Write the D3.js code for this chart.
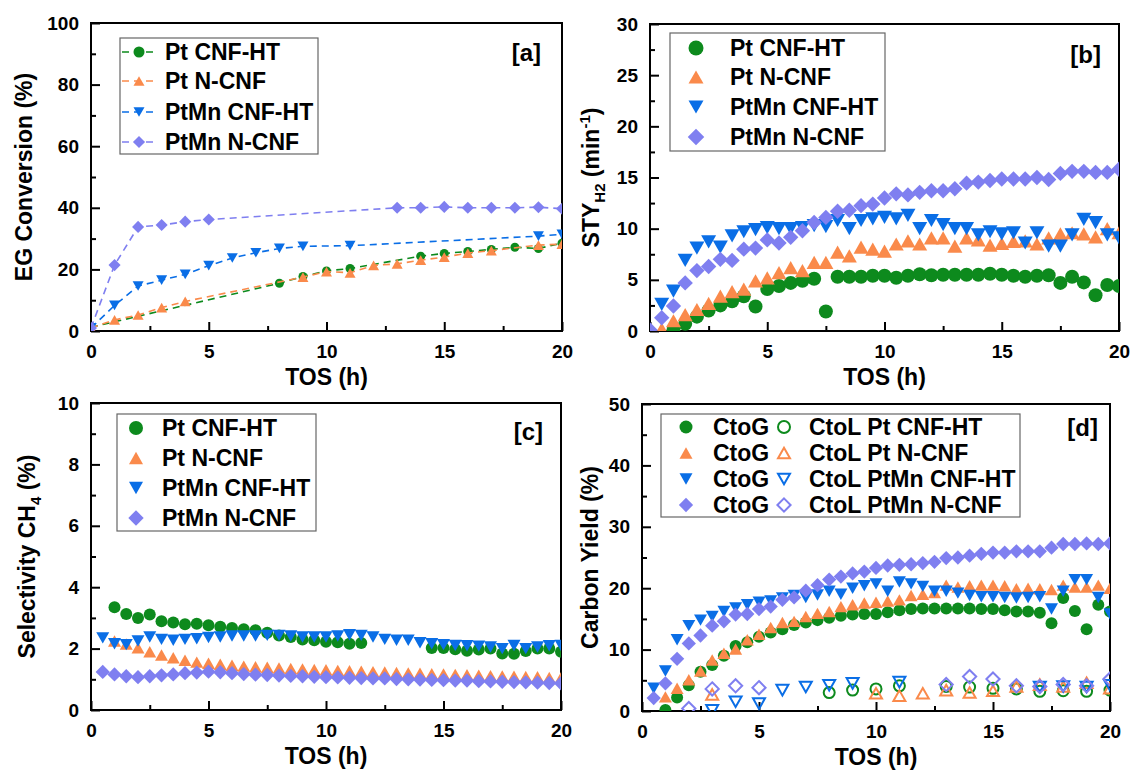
<!DOCTYPE html>
<html>
<head>
<meta charset="utf-8">
<script src="https://cdn.jsdelivr.net/npm/d3@7"></script>
<style>
  body { margin: 0; background: #fff; }
  text { font-family: "Liberation Sans", Arial, sans-serif; font-weight: bold; fill: #000; }
</style>
</head>
<body>
<svg id="fig" width="1132" height="771"></svg>
<script>
// ---- data ----
const seriesNames = ["Pt CNF-HT", "Pt N-CNF", "PtMn CNF-HT", "PtMn N-CNF"];
const xTicks = [0, 5, 10, 15, 20];

// [a] EG conversion (%), hourly points, dashed lines
const aGreenT = [0, 8, 9, 10, 11, 14, 15, 16, 17, 18, 19, 20];
const aGreenV = [1.2, 15.5, 17.7, 19.5, 20.3, 24.3, 25.2, 25.8, 26.5, 27.2, 26.8, 28.5];
const aOrangeT = [0, 1, 2, 3, 4, 9, 10, 11, 12, 13, 14, 15, 16, 17, 19, 20];
const aOrangeV = [1, 3.6, 5.2, 7.6, 9.6, 17.5, 19.3, 18.9, 21.3, 21.8, 23.0, 24.0, 25.3, 26.1, 27.9, 28.2];
const aBlueT = [0, 1, 2, 3, 4, 5, 6, 7, 8, 9, 11, 19, 20];
const aBlueV = [1, 8.3, 14.6, 16.5, 18.4, 21.2, 23.7, 25.4, 26.8, 27.5, 27.7, 30.8, 31.4];
const aPurpleT = [0, 1, 2, 3, 4, 5, 13, 14, 15, 16, 17, 18, 19, 20];
const aPurpleV = [1, 21.4, 33.8, 34.4, 35.5, 36.2, 40.0, 40.0, 40.3, 40.0, 40.0, 40.0, 40.2, 39.7];

// half-hour sampling used in [b], [c], [d]
const tosHalf = [0, 0.5, 1, 1.5, 2, 2.5, 3, 3.5, 4, 4.5, 5, 5.5, 6, 6.5, 7, 7.5, 8, 8.5, 9, 9.5, 10,
  10.5, 11, 11.5, 12, 12.5, 13, 13.5, 14, 14.5, 15, 15.5, 16, 16.5, 17, 17.5, 18, 18.5, 19, 19.5, 20];

// [b] STY H2 (min-1)
const bGreen = [null, null, 0.1, 0.7, 1.4, 2.0, 2.5, 2.9, 3.4, 2.4, 4.1, 4.4, 4.7, 4.9, 5.1, 1.9, 5.3, 5.3, 5.3, 5.4, 5.4,
  5.2, 5.4, 5.55, 5.45, 5.5, 5.5, 5.5, 5.5, 5.6, 5.5, 5.4, 5.3, 5.4, 5.45, 4.7, 5.3, 4.75, 3.5, 4.5, 4.4];
const bOrange = [null, 0.2, 1.0, 1.6, 2.1, 2.7, 3.4, 3.85, 4.1, 4.9, 5.2, 5.7, 6.2, 5.9, 6.7, 6.7, 7.7, 7.35, 8.2, 8.0, 7.8,
  8.5, 8.8, 8.5, 9.1, 9.1, 8.3, 9.1, 8.9, 8.4, 8.55, 8.75, 8.8, 8.5, 9.1, 9.5, 9.6, 9.5, 9.2, 10.0, 9.6];
const bBlue = [null, 2.6, 3.9, 6.9, 8.1, 8.7, 8.2, 9.3, 9.7, 9.9, 10.1, 10.0, 10.0, 10.1, 10.3, 10.2, 10.8, 10.0, 10.8, 10.95, 11.1,
  10.95, 11.3, 10.0, 10.8, 10.4, 10.0, 10.0, 9.4, 9.7, 9.5, 9.6, 8.6, 9.6, 8.3, 8.3, 9.4, 10.9, 10.6, 9.4, 9.1];
const bPurple = [0.1, 1.3, 2.45, 4.7, 5.9, 6.3, 7.0, 6.9, 8.0, 8.1, 8.9, 8.6, 9.15, 9.8, 10.6, 11.1, 11.7, 11.8, 12.25, 12.4, 13.0,
  13.4, 13.3, 13.55, 13.7, 13.7, 13.9, 14.45, 14.55, 14.7, 14.85, 14.85, 14.85, 15.0, 14.8, 15.4, 15.6, 15.6, 15.5, 15.5, 15.8];

// [c] CH4 selectivity (%)
const cGreen = [null, null, 3.35, 3.13, 3.0, 3.11, 2.89, 2.85, 2.79, 2.81, 2.76, 2.71, 2.67, 2.63, 2.6, 2.52, 2.43, 2.38, 2.3, 2.27, 2.22,
  2.21, 2.16, 2.18, null, null, null, null, null, 2.02, 2.02, 1.98, 1.93, 1.97, 2.0, 1.84, 1.83, 1.92, 2.0, 2.0, 1.9];
const cOrange = [null, null, 2.25, 2.15, 2.03, 1.9, 1.79, 1.7, 1.62, 1.56, 1.52, 1.49, 1.46, 1.43, 1.41, 1.39, 1.37, 1.35, 1.34, 1.32, 1.31,
  1.29, 1.28, 1.26, 1.25, 1.24, 1.22, 1.21, 1.2, 1.18, 1.17, 1.16, 1.15, 1.13, 1.12, 1.11, 1.1, 1.09, 1.08, 1.06, 1.05];
const cBlue = [null, 2.35, 2.16, 2.13, 2.25, 2.38, 2.3, 2.27, 2.3, 2.32, 2.36, 2.38, 2.41, 2.41, 2.41, 2.43, 2.43, 2.41, 2.38, 2.38, 2.38,
  2.41, 2.45, 2.43, 2.38, 2.3, 2.27, 2.27, 2.19, 2.16, 2.13, 2.1, 2.09, 2.08, 2.05, 2.0, 2.1, 2.0, 2.05, 2.09, 2.1];
const cPurple = [null, 1.24, 1.16, 1.1, 1.07, 1.1, 1.13, 1.16, 1.2, 1.22, 1.25, 1.23, 1.2, 1.17, 1.15, 1.14, 1.12, 1.11, 1.1, 1.08, 1.07,
  1.06, 1.05, 1.04, 1.03, 1.03, 1.01, 1.0, 0.99, 0.98, 0.97, 0.96, 0.96, 0.94, 0.93, 0.92, 0.91, 0.9, 0.89, 0.88, 0.87];

// [d] carbon yield (%): CtoG (filled, half-hourly) and CtoL (open, hourly)
const dGreenG = [null, null, 0.15, 2.2, 4.2, 6.4, 7.5, 9.0, 10.6, 11.2, 12.1, 12.8, 13.3, 14.0, 14.4, 14.8, 15.2, 15.5, 15.7, 15.8, 15.8,
  16.1, 16.4, 16.6, 16.7, 16.7, 16.7, 16.7, 16.7, 16.6, 16.6, 16.4, 16.2, 16.2, 16.0, 14.3, 18.4, 16.3, 13.3, 17.3, 16.2];
const dOrangeG = [null, null, 2.3, 3.7, 5.1, 6.5, 8.3, 9.4, 10.1, 11.6, 12.5, 13.6, 14.4, 14.6, 15.4, 15.9, 16.2, 17.0, 17.3, 17.6, 17.7,
  17.9, 18.1, 18.8, 19.0, 19.3, 20.5, 20.2, 20.4, 20.5, 20.5, 20.4, 19.9, 20.0, 19.9, 19.8, 20.5, 20.2, 20.2, 20.5, 20.0];
const dBlueG = [null, 3.7, 6.5, 11.6, 13.9, 14.8, 15.4, 16.2, 16.8, 17.3, 17.7, 17.9, 18.4, 18.8, 18.5, 18.9, 19.5, 19.0, 20.0, 20.4, 20.7,
  19.5, 21.0, 20.7, 20.3, 19.5, 19.5, 19.2, 18.8, 18.6, 18.6, 18.5, 18.4, 18.5, 18.6, 16.6, 19.5, 21.4, 21.4, 18.5, 15.8];
const dPurpleG = [null, 2.1, 4.5, 8.5, 11.0, 12.3, 13.9, 14.6, 15.7, 15.8, 16.6, 17.0, 18.1, 18.5, 19.6, 20.5, 21.4, 21.9, 22.4, 22.7, 23.3,
  23.7, 23.8, 23.9, 24.1, 24.3, 24.9, 25.0, 25.3, 25.6, 25.8, 25.8, 26.0, 26.0, 26.0, 26.6, 27.2, 27.2, 27.3, 27.2, 27.3];
const dGreenLT = [8, 9, 10, 11, 13, 14, 15, 16, 17, 18, 19, 20];
const dGreenLV = [3.0, 3.4, 3.6, 4.1, 4.0, 3.9, 3.7, 3.6, 3.2, 3.3, 3.2, 3.4];
const dOrangeLT = [3, 10, 11, 12, 13, 14, 15, 16, 17, 18, 19, 20];
const dOrangeLV = [2.7, 2.9, 2.5, 2.9, 3.4, 3.0, 3.3, 4.0, 4.3, 4.0, 4.6, 3.7];
const dBlueLT = [3, 4, 5, 6, 7, 8, 9, 11, 17, 18, 19, 20];
const dBlueLV = [0.1, 1.5, 1.2, 3.4, 3.9, 4.2, 4.5, 4.7, 3.9, 4.0, 3.9, 4.2];
const dPurpleLT = [2, 3, 4, 5, 13, 14, 15, 16, 17, 18, 19, 20];
const dPurpleLV = [0.4, 3.6, 4.1, 3.8, 4.3, 5.6, 5.2, 4.1, 4.0, 4.3, 4.1, 5.2];

// ---- styling ----
const colors = ["#0d8a1d", "#fa8a4b", "#0a6ee6", "#7f7ff0"];
const shapes = ["circle", "up", "down", "diamond"];
const FONT = '"Liberation Sans", Arial, sans-serif';

function markerPath(type, s) {
  const h = s / 2;
  if (type === "circle") return `M${h},0A${h},${h} 0 1,1 ${-h},0A${h},${h} 0 1,1 ${h},0Z`;
  const t = s * 0.44;
  if (type === "up") return `M0,${-t}L${h},${t}L${-h},${t}Z`;
  if (type === "down") return `M0,${t}L${h},${-t}L${-h},${-t}Z`;
  const d = s * 0.55;
  return `M0,${-d}L${d},0L0,${d}L${-d},0Z`;
}

function zip(xs, ys) {
  return xs.map((t, i) => ({ t: t, v: ys[i] })).filter(d => d.v !== null);
}

const svg = d3.select("#fig");

function drawPanel(p) {
  const g = svg.append("g");
  const x = d3.scaleLinear().domain([0, 20]).range([p.left, p.right]);
  const y = d3.scaleLinear().domain([0, p.yMax]).range([p.bottom, p.top]);

  const clipId = "clip-" + p.tag;
  svg.append("clipPath").attr("id", clipId)
    .append("rect").attr("x", p.left).attr("y", p.top)
    .attr("width", p.right - p.left).attr("height", p.bottom - p.top);

  // minor ticks (inward)
  const yMinor = d3.range(p.yStep / 2, p.yMax, p.yStep);
  g.append("g").attr("transform", `translate(0,${p.bottom})`)
    .call(d3.axisBottom(x).tickValues([2.5, 7.5, 12.5, 17.5]).tickSize(-5).tickFormat(""));
  g.append("g").attr("transform", `translate(${p.left},0)`)
    .call(d3.axisLeft(y).tickValues(yMinor).tickSize(-5).tickFormat(""));
  // major ticks
  const xAx = g.append("g").attr("transform", `translate(0,${p.bottom})`)
    .call(d3.axisBottom(x).tickValues(xTicks).tickSize(-9).tickPadding(14).tickFormat(d3.format("d")));
  const yAx = g.append("g").attr("transform", `translate(${p.left},0)`)
    .call(d3.axisLeft(y).tickValues(d3.range(0, p.yMax + 0.001, p.yStep)).tickSize(-9).tickPadding(12).tickFormat(d3.format("d")));
  g.selectAll(".domain").remove();
  g.selectAll(".tick line").attr("stroke", "#000").attr("stroke-width", 2);
  [xAx, yAx].forEach(a => a.selectAll("text")
    .style("font-family", FONT).style("font-weight", "bold").style("font-size", "19px").attr("fill", "#000"));

  // frame
  g.append("rect").attr("x", p.left).attr("y", p.top)
    .attr("width", p.right - p.left).attr("height", p.bottom - p.top)
    .attr("fill", "none").attr("stroke", "#000").attr("stroke-width", 2);

  // axis titles
  g.append("text").attr("x", (p.left + p.right) / 2).attr("y", p.bottom + 54)
    .attr("text-anchor", "middle").style("font-size", "23px").text("TOS (h)");
  const yt = g.append("text").attr("transform", `translate(${p.yTitleX},${(p.top + p.bottom) / 2}) rotate(-90)`)
    .attr("text-anchor", "middle").attr("dy", "0.35em").style("font-size", "23px");
  p.yTitle(yt);

  // panel tag
  g.append("text").attr("x", p.tagX).attr("y", p.tagY).attr("dy", "0.35em")
    .attr("text-anchor", "end").style("font-size", "24px").text(`[${p.tag}]`);

  const plot = g.append("g").attr("clip-path", `url(#${clipId})`);

  p.series.forEach(s => {
    const pts = zip(s.t, s.v);
    if (s.dashed) {
      plot.append("path").datum(pts)
        .attr("d", d3.line().x(d => x(d.t)).y(d => y(d.v)))
        .attr("fill", "none").attr("stroke", colors[s.k]).attr("stroke-width", 1.6)
        .attr("stroke-dasharray", "7,5");
    }
    plot.selectAll(null).data(pts).join("path")
      .attr("transform", d => `translate(${x(d.t)},${y(d.v)})`)
      .attr("d", markerPath(shapes[s.k], s.open ? s.size - 1 : s.size))
      .attr("fill", s.open ? "none" : colors[s.k])
      .attr("stroke", s.open ? colors[s.k] : "none")
      .attr("stroke-width", s.open ? 2 : 0);
  });

  // legend
  const L = p.legend;
  const lg = g.append("g");
  lg.append("rect").attr("x", L.x0).attr("y", L.y0).attr("width", L.x1 - L.x0).attr("height", L.y1 - L.y0)
    .attr("fill", "#fff").attr("stroke", "#666").attr("stroke-width", 1.2);
  L.rows.forEach((ry, i) => {
    if (L.dashed) {
      lg.append("line").attr("x1", L.mx - 17).attr("x2", L.mx + 18).attr("y1", ry).attr("y2", ry)
        .attr("stroke", colors[i]).attr("stroke-width", 1.6).attr("stroke-dasharray", "7,5");
    }
    lg.append("path").attr("transform", `translate(${L.mx},${ry})`)
      .attr("d", markerPath(shapes[i], L.size)).attr("fill", colors[i]);
    if (L.openX) {
      lg.append("text").attr("x", L.tx).attr("y", ry).attr("dy", "0.35em").style("font-size", "23px").text("CtoG");
      lg.append("path").attr("transform", `translate(${L.openX},${ry})`)
        .attr("d", markerPath(shapes[i], L.size - 1)).attr("fill", "none")
        .attr("stroke", colors[i]).attr("stroke-width", 2);
      lg.append("text").attr("x", L.tx2).attr("y", ry).attr("dy", "0.35em").style("font-size", "23px")
        .text("CtoL " + seriesNames[i]);
    } else {
      lg.append("text").attr("x", L.tx).attr("y", ry).attr("dy", "0.35em").style("font-size", "23px")
        .text(seriesNames[i]);
    }
  });
}

function simpleTitle(str) { return t => t.text(str); }

drawPanel({
  tag: "a", left: 91, right: 562, top: 23, bottom: 331, yMax: 100, yStep: 20,
  yTitleX: 24, tagX: 541, tagY: 53,
  yTitle: simpleTitle("EG Conversion (%)"),
  series: [
    { k: 0, t: aGreenT, v: aGreenV, size: 9, dashed: true },
    { k: 1, t: aOrangeT, v: aOrangeV, size: 11, dashed: true },
    { k: 2, t: aBlueT, v: aBlueV, size: 11, dashed: true },
    { k: 3, t: aPurpleT, v: aPurpleV, size: 11, dashed: true }
  ],
  legend: { x0: 120, x1: 318, y0: 38, y1: 154, rows: [52, 81, 112, 142], mx: 139, tx: 165, size: 11, dashed: true }
});

drawPanel({
  tag: "b", left: 650, right: 1119, top: 24, bottom: 331, yMax: 30, yStep: 5,
  yTitleX: 591, tagX: 1101, tagY: 55,
  yTitle: t => {
    t.append("tspan").text("STY");
    t.append("tspan").attr("dy", 6).style("font-size", "15px").text("H2");
    t.append("tspan").attr("dy", -6).text(" (min");
    t.append("tspan").attr("dy", -9).style("font-size", "15px").text("-1");
    t.append("tspan").attr("dy", 9).text(")");
  },
  series: [
    { k: 0, t: tosHalf, v: bGreen, size: 14 },
    { k: 1, t: tosHalf, v: bOrange, size: 15 },
    { k: 2, t: tosHalf, v: bBlue, size: 15 },
    { k: 3, t: tosHalf, v: bPurple, size: 14 }
  ],
  legend: { x0: 670, x1: 885, y0: 33, y1: 151, rows: [48, 77, 107, 137], mx: 696, tx: 730, size: 15 }
});

drawPanel({
  tag: "c", left: 91, right: 561, top: 403, bottom: 710, yMax: 10, yStep: 2,
  yTitleX: 27, tagX: 543, tagY: 432,
  yTitle: t => {
    t.append("tspan").text("Selectivity CH");
    t.append("tspan").attr("dy", 6).style("font-size", "15px").text("4");
    t.append("tspan").attr("dy", -6).text(" (%)");
  },
  series: [
    { k: 0, t: tosHalf, v: cGreen, size: 12 },
    { k: 1, t: tosHalf, v: cOrange, size: 13 },
    { k: 2, t: tosHalf, v: cBlue, size: 13 },
    { k: 3, t: tosHalf, v: cPurple, size: 13 }
  ],
  legend: { x0: 117, x1: 316, y0: 414, y1: 531, rows: [428, 458, 488, 518], mx: 136, tx: 162, size: 14 }
});

drawPanel({
  tag: "d", left: 642, right: 1110, top: 404, bottom: 711, yMax: 50, yStep: 10,
  yTitleX: 590, tagX: 1098, tagY: 428,
  yTitle: simpleTitle("Carbon Yield (%)"),
  series: [
    { k: 0, t: tosHalf, v: dGreenG, size: 12 },
    { k: 1, t: tosHalf, v: dOrangeG, size: 13 },
    { k: 2, t: tosHalf, v: dBlueG, size: 13 },
    { k: 3, t: tosHalf, v: dPurpleG, size: 13 },
    { k: 0, t: dGreenLT, v: dGreenLV, size: 12, open: true },
    { k: 1, t: dOrangeLT, v: dOrangeLV, size: 13, open: true },
    { k: 2, t: dBlueLT, v: dBlueLV, size: 13, open: true },
    { k: 3, t: dPurpleLT, v: dPurpleLV, size: 13, open: true }
  ],
  legend: { x0: 661, x1: 1020, y0: 414, y1: 517, rows: [427, 453, 479, 505], mx: 686, tx: 713,
            openX: 784, tx2: 809, size: 13 }
});
</script>
</body>
</html>
